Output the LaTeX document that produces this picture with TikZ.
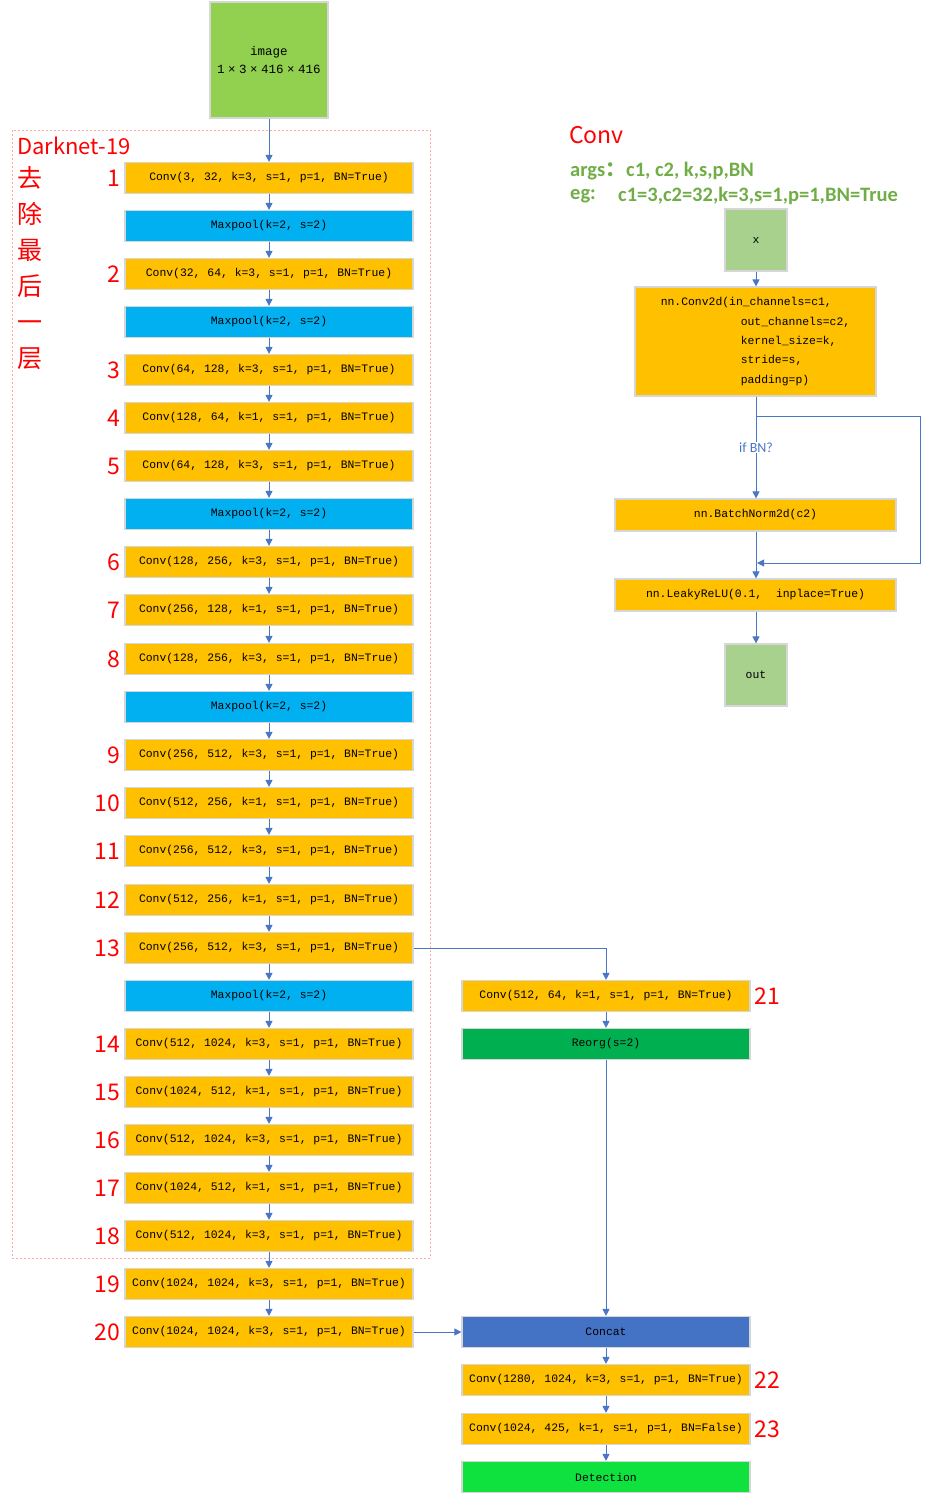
\documentclass[tikz,border=0pt]{standalone}
\usepackage{fontspec}
\usetikzlibrary{arrows.meta,positioning}
\newfontfamily\mono{Liberation Mono}
\newfontfamily\cjk{Noto Sans CJK SC}
\newfontfamily\carl{Carlito}
\definecolor{orng}{HTML}{FFC000}
\definecolor{mpblue}{HTML}{00B0F0}
\definecolor{reorggreen}{HTML}{00B050}
\definecolor{concatblue}{HTML}{4472C4}
\definecolor{detgreen}{HTML}{0FE23F}
\definecolor{imggreen}{HTML}{92D050}
\definecolor{lightgreen}{HTML}{A9D18E}
\definecolor{arrblue}{HTML}{4A76C6}
\definecolor{argsgreen}{HTML}{70AD47}
\definecolor{bordergray}{HTML}{D6D6D6}
\definecolor{dashpink}{HTML}{FFA8A8}
\tikzset{
  blk/.style={draw=bordergray, line width=1.2pt, minimum width=288pt, minimum height=31pt, inner sep=0pt,
    font=\mono\fontsize{11.4}{13}\selectfont},
  convbox/.style={blk, fill=orng},
  mpbox/.style={blk, fill=mpblue},
  sq/.style={draw=bordergray, line width=1.2pt, minimum width=62pt, minimum height=62pt, inner sep=0pt,
    fill=lightgreen, font=\mono\fontsize{11.4}{13}\selectfont},
  num/.style={anchor=east, text=red, font=\cjk\fontsize{23}{26}\selectfont, inner sep=0pt},
  numr/.style={anchor=west, text=red, font=\cjk\fontsize{23}{26}\selectfont, inner sep=0pt},
  arr/.style={draw=arrblue, line width=0.9pt, -{Triangle[length=7pt,width=7pt]}},
  lbl/.style={fill=white, text=arrblue, font=\carl\fontsize{14}{16}\selectfont, inner sep=1pt},
  argtxt/.style={anchor=west, text=argsgreen, font=\carl\bfseries\fontsize{20.5}{22}\selectfont, inner sep=0pt},
}
\newcommand{\tms}{\kern3.5pt×\kern3.5pt}
\begin{document}
\begin{tikzpicture}[x=1pt,y=-1pt]
\useasboundingbox (0,0) rectangle (931,1496);
% Darknet dashed frame
\draw[dashpink, line width=0.8pt, dash pattern=on 2pt off 2pt] (12,130) rectangle (430,1258);
\node[anchor=west, text=red, font=\cjk\fontsize{22}{26}\selectfont, inner sep=0pt] (dn) at (17,146) {Darknet-19};
\node[text=red, font=\cjk\fontsize{25}{36}\selectfont, align=center, inner sep=0pt] (cn) at (30,268) {去\\除\\最\\后\\一\\层};
% image
\node[draw=bordergray, line width=1.2pt, fill=imggreen, minimum width=118pt, minimum height=116pt, inner sep=0pt,
  align=center, font=\mono\fontsize{12.5}{18}\selectfont] (img) at (269,60) {image\\1\tms3\tms416\tms416};
% left column
\node[convbox] (r1) at (269,178) {Conv(3, 32, k=3, s=1, p=1, BN=True)};
\node[mpbox] (m1) at (269,226) {Maxpool(k=2, s=2)};
\node[convbox] (r2) at (269,274) {Conv(32, 64, k=3, s=1, p=1, BN=True)};
\node[mpbox] (m2) at (269,322) {Maxpool(k=2, s=2)};
\node[convbox] (r3) at (269,370) {Conv(64, 128, k=3, s=1, p=1, BN=True)};
\node[convbox] (r4) at (269,418) {Conv(128, 64, k=1, s=1, p=1, BN=True)};
\node[convbox] (r5) at (269,466) {Conv(64, 128, k=3, s=1, p=1, BN=True)};
\node[mpbox] (m3) at (269,514) {Maxpool(k=2, s=2)};
\node[convbox] (r6) at (269,562) {Conv(128, 256, k=3, s=1, p=1, BN=True)};
\node[convbox] (r7) at (269,610) {Conv(256, 128, k=1, s=1, p=1, BN=True)};
\node[convbox] (r8) at (269,659) {Conv(128, 256, k=3, s=1, p=1, BN=True)};
\node[mpbox] (m4) at (269,707) {Maxpool(k=2, s=2)};
\node[convbox] (r9) at (269,755) {Conv(256, 512, k=3, s=1, p=1, BN=True)};
\node[convbox] (r10) at (269,803) {Conv(512, 256, k=1, s=1, p=1, BN=True)};
\node[convbox] (r11) at (269,851) {Conv(256, 512, k=3, s=1, p=1, BN=True)};
\node[convbox] (r12) at (269,900) {Conv(512, 256, k=1, s=1, p=1, BN=True)};
\node[convbox] (r13) at (269,948) {Conv(256, 512, k=3, s=1, p=1, BN=True)};
\node[mpbox] (m5) at (269,996) {Maxpool(k=2, s=2)};
\node[convbox] (r14) at (269,1044) {Conv(512, 1024, k=3, s=1, p=1, BN=True)};
\node[convbox] (r15) at (269,1092) {Conv(1024, 512, k=1, s=1, p=1, BN=True)};
\node[convbox] (r16) at (269,1140) {Conv(512, 1024, k=3, s=1, p=1, BN=True)};
\node[convbox] (r17) at (269,1188) {Conv(1024, 512, k=1, s=1, p=1, BN=True)};
\node[convbox] (r18) at (269,1236) {Conv(512, 1024, k=3, s=1, p=1, BN=True)};
\node[convbox] (r19) at (269,1284) {Conv(1024, 1024, k=3, s=1, p=1, BN=True)};
\node[convbox] (r20) at (269,1332) {Conv(1024, 1024, k=3, s=1, p=1, BN=True)};
% numbers
\foreach \n in {1,...,20} { \node[num] (n\n) at ([xshift=-4pt]r\n.west) {\n}; }
% right column
\node[convbox] (r21) at (606,996) {Conv(512, 64, k=1, s=1, p=1, BN=True)};
\node[blk, fill=reorggreen] (reorg) at (606,1044) {Reorg(s=2)};
\node[blk, fill=concatblue] (concat) at (606,1332) {Concat};
\node[convbox] (r22) at (606,1380) {Conv(1280, 1024, k=3, s=1, p=1, BN=True)};
\node[convbox] (r23) at (606,1429) {Conv(1024, 425, k=1, s=1, p=1, BN=False)};
\node[blk, fill=detgreen] (det) at (606,1477) {Detection};
\foreach \n in {21,22,23} { \node[numr] (n\n) at ([xshift=4pt]r\n.east) {\n}; }
% chain arrows
\foreach \a/\b in {img/r1,r1/m1,m1/r2,r2/m2,m2/r3,r3/r4,r4/r5,r5/m3,m3/r6,r6/r7,r7/r8,r8/m4,m4/r9,r9/r10,r10/r11,r11/r12,r12/r13,r13/m5,m5/r14,r14/r15,r15/r16,r16/r17,r17/r18,r18/r19,r19/r20,r21/reorg,reorg/concat,concat/r22,r22/r23,r23/det}
  { \draw[arr] (\a) -- (\b); }
\draw[arr] (r13.east) -| (r21.north);
\draw[arr] (r20) -- (concat);
% Conv panel
\node[anchor=west, text=red, font=\cjk\fontsize{23}{26}\selectfont, inner sep=0pt] (convtitle) at (569,135) {Conv};
\node[argtxt] (args) at (570,171) {args{\cjk\bfseries ：}};
\node[argtxt] (argsv) at (626,171) {c1, c2, k,s,p,BN};
\node[argtxt] (eg) at (570,196) {eg:};
\node[argtxt] (egv) at (618,196) {c1=3,c2=32,k=3,s=1,p=1,BN=True};
\node[sq] (x) at (756,240) {x};
\node[draw=bordergray, line width=1.2pt, fill=orng, minimum width=241pt, minimum height=109pt, inner sep=0pt,
  align=left, font=\mono\fontsize{11.4}{19.3}\selectfont] (conv2d) at (755.5,341.5)
  {nn.Conv2d(in\_channels=c1,\\\hspace*{80pt}out\_channels=c2,\\\hspace*{80pt}kernel\_size=k,\\\hspace*{80pt}stride=s,\\\hspace*{80pt}padding=p)};
\node[draw=bordergray, line width=1.2pt, fill=orng, minimum width=281pt, minimum height=32pt, inner sep=0pt,
  font=\mono\fontsize{11.4}{13}\selectfont] (bn) at (755.5,515) {nn.BatchNorm2d(c2)};
\node[draw=bordergray, line width=1.2pt, fill=orng, minimum width=281pt, minimum height=32pt, inner sep=0pt,
  font=\mono\fontsize{11.4}{13}\selectfont] (leaky) at (755.5,595) {nn.LeakyReLU(0.1,\ \ inplace=True)};
\node[sq] (out) at (756,675) {out};
\draw[arr] (x) -- (conv2d.north -| x);
\draw[arr] (conv2d.south -| x) -- node[lbl] (ifbn) {if BN?} (bn.north -| x);
\draw[arr] (bn.south -| x) -- (leaky.north -| x);
\draw[arr] (leaky.south -| x) -- (out);
\coordinate (bs) at (756,416);
\coordinate (bc) at (920,416);
\coordinate (bd) at (920,563);
\coordinate (be) at (757,563);
\draw[arr] (bs) -- (bc) -- (bd) -- (be);
\end{tikzpicture}
\end{document}
